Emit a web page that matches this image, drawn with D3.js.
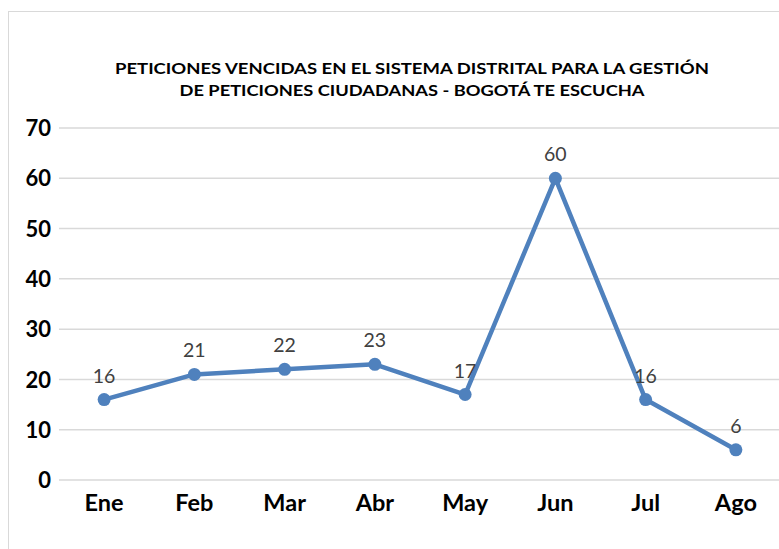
<!DOCTYPE html>
<html>
<head>
<meta charset="utf-8">
<script src="https://cdn.jsdelivr.net/npm/d3@7"></script>
<style>
  body { margin: 0; background: #fff; }
  text { font-family: Lato, "Open Sans", sans-serif; }
</style>
</head>
<body>
<div id="chart"></div>
<script>
var w = 779;
var h = 549;

// data
var months = ["Ene", "Feb", "Mar", "Abr", "May", "Jun", "Jul", "Ago"];
var vencidas = [16, 21, 22, 23, 17, 60, 16, 6];
var yTicks = [0, 10, 20, 30, 40, 50, 60, 70];
var titleLines = ["PETICIONES VENCIDAS EN EL SISTEMA DISTRITAL PARA LA GESTIÓN",
                  "DE PETICIONES CIUDADANAS - BOGOTÁ TE ESCUCHA"];
var titleWidths = [594, 465];

var svg = d3.select("#chart")
    .append("svg")
    .attr("width", w)
    .attr("height", h);

// chart frame
svg.append("rect")
    .attr("x", 8.5)
    .attr("y", 11.5)
    .attr("width", w)
    .attr("height", h)
    .attr("fill", "none")
    .attr("stroke", "#d9d9d9")
    .attr("stroke-width", 1);

// title
svg.selectAll(".title")
    .data(titleLines)
    .enter()
    .append("text")
    .attr("class", "title")
    .attr("x", 412)
    .attr("y", function (d, i) { return 74 + i * 22; })
    .attr("text-anchor", "middle")
    .attr("font-size", "16px")
    .attr("font-weight", "bold")
    .attr("fill", "#000")
    .attr("textLength", function (d, i) { return titleWidths[i]; })
    .attr("lengthAdjust", "spacingAndGlyphs")
    .text(function (d) { return d; });

var xScale = d3.scaleBand()
    .domain(months)
    .range([59, 781]);

var yScale = d3.scaleLinear()
    .domain([0, 70])
    .range([480, 128]);

// gridlines
svg.append("g")
    .selectAll("line")
    .data(yTicks)
    .enter()
    .append("line")
    .attr("x1", 59)
    .attr("x2", w)
    .attr("y1", function (d) { return yScale(d); })
    .attr("y2", function (d) { return yScale(d); })
    .attr("stroke", "#d9d9d9")
    .attr("stroke-width", 1.5);

// y axis labels
var yAxis = d3.axisLeft(yScale).tickValues(yTicks).tickSize(0).tickPadding(8);
var yG = svg.append("g")
    .attr("transform", "translate(59,0)")
    .call(yAxis);
yG.select(".domain").remove();
yG.selectAll("text")
    .attr("font-family", "Lato, sans-serif")
    .attr("font-size", "22px")
    .attr("font-weight", "bold")
    .attr("fill", "#000")
    .attr("dy", "0.35em");

// x axis labels
var xAxis = d3.axisBottom(xScale).tickSize(0).tickPadding(14);
var xG = svg.append("g")
    .attr("transform", "translate(0,480)")
    .call(xAxis);
xG.select(".domain").remove();
xG.selectAll("text")
    .attr("font-family", "Lato, sans-serif")
    .attr("font-size", "23.5px")
    .attr("font-weight", "bold")
    .attr("fill", "#000");

var cx = function (d, i) { return xScale(months[i]) + xScale.bandwidth() / 2; };

// line
var line = d3.line()
    .x(function (d, i) { return cx(d, i); })
    .y(function (d) { return yScale(d); });

svg.append("path")
    .datum(vencidas)
    .attr("d", line)
    .attr("fill", "none")
    .attr("stroke", "#4f81bd")
    .attr("stroke-width", 4.5)
    .attr("stroke-linejoin", "round");

svg.selectAll(".dot")
    .data(vencidas)
    .enter()
    .append("circle")
    .attr("class", "dot")
    .attr("cx", cx)
    .attr("cy", function (d) { return yScale(d); })
    .attr("r", 6.5)
    .attr("fill", "#4f81bd");

// data labels
svg.selectAll(".lbl")
    .data(vencidas)
    .enter()
    .append("text")
    .attr("class", "lbl")
    .attr("x", cx)
    .attr("y", function (d) { return yScale(d) - 17; })
    .attr("text-anchor", "middle")
    .attr("font-size", "19.5px")
    .attr("fill", "#404040")
    .text(function (d) { return d; });
</script>
</body>
</html>
